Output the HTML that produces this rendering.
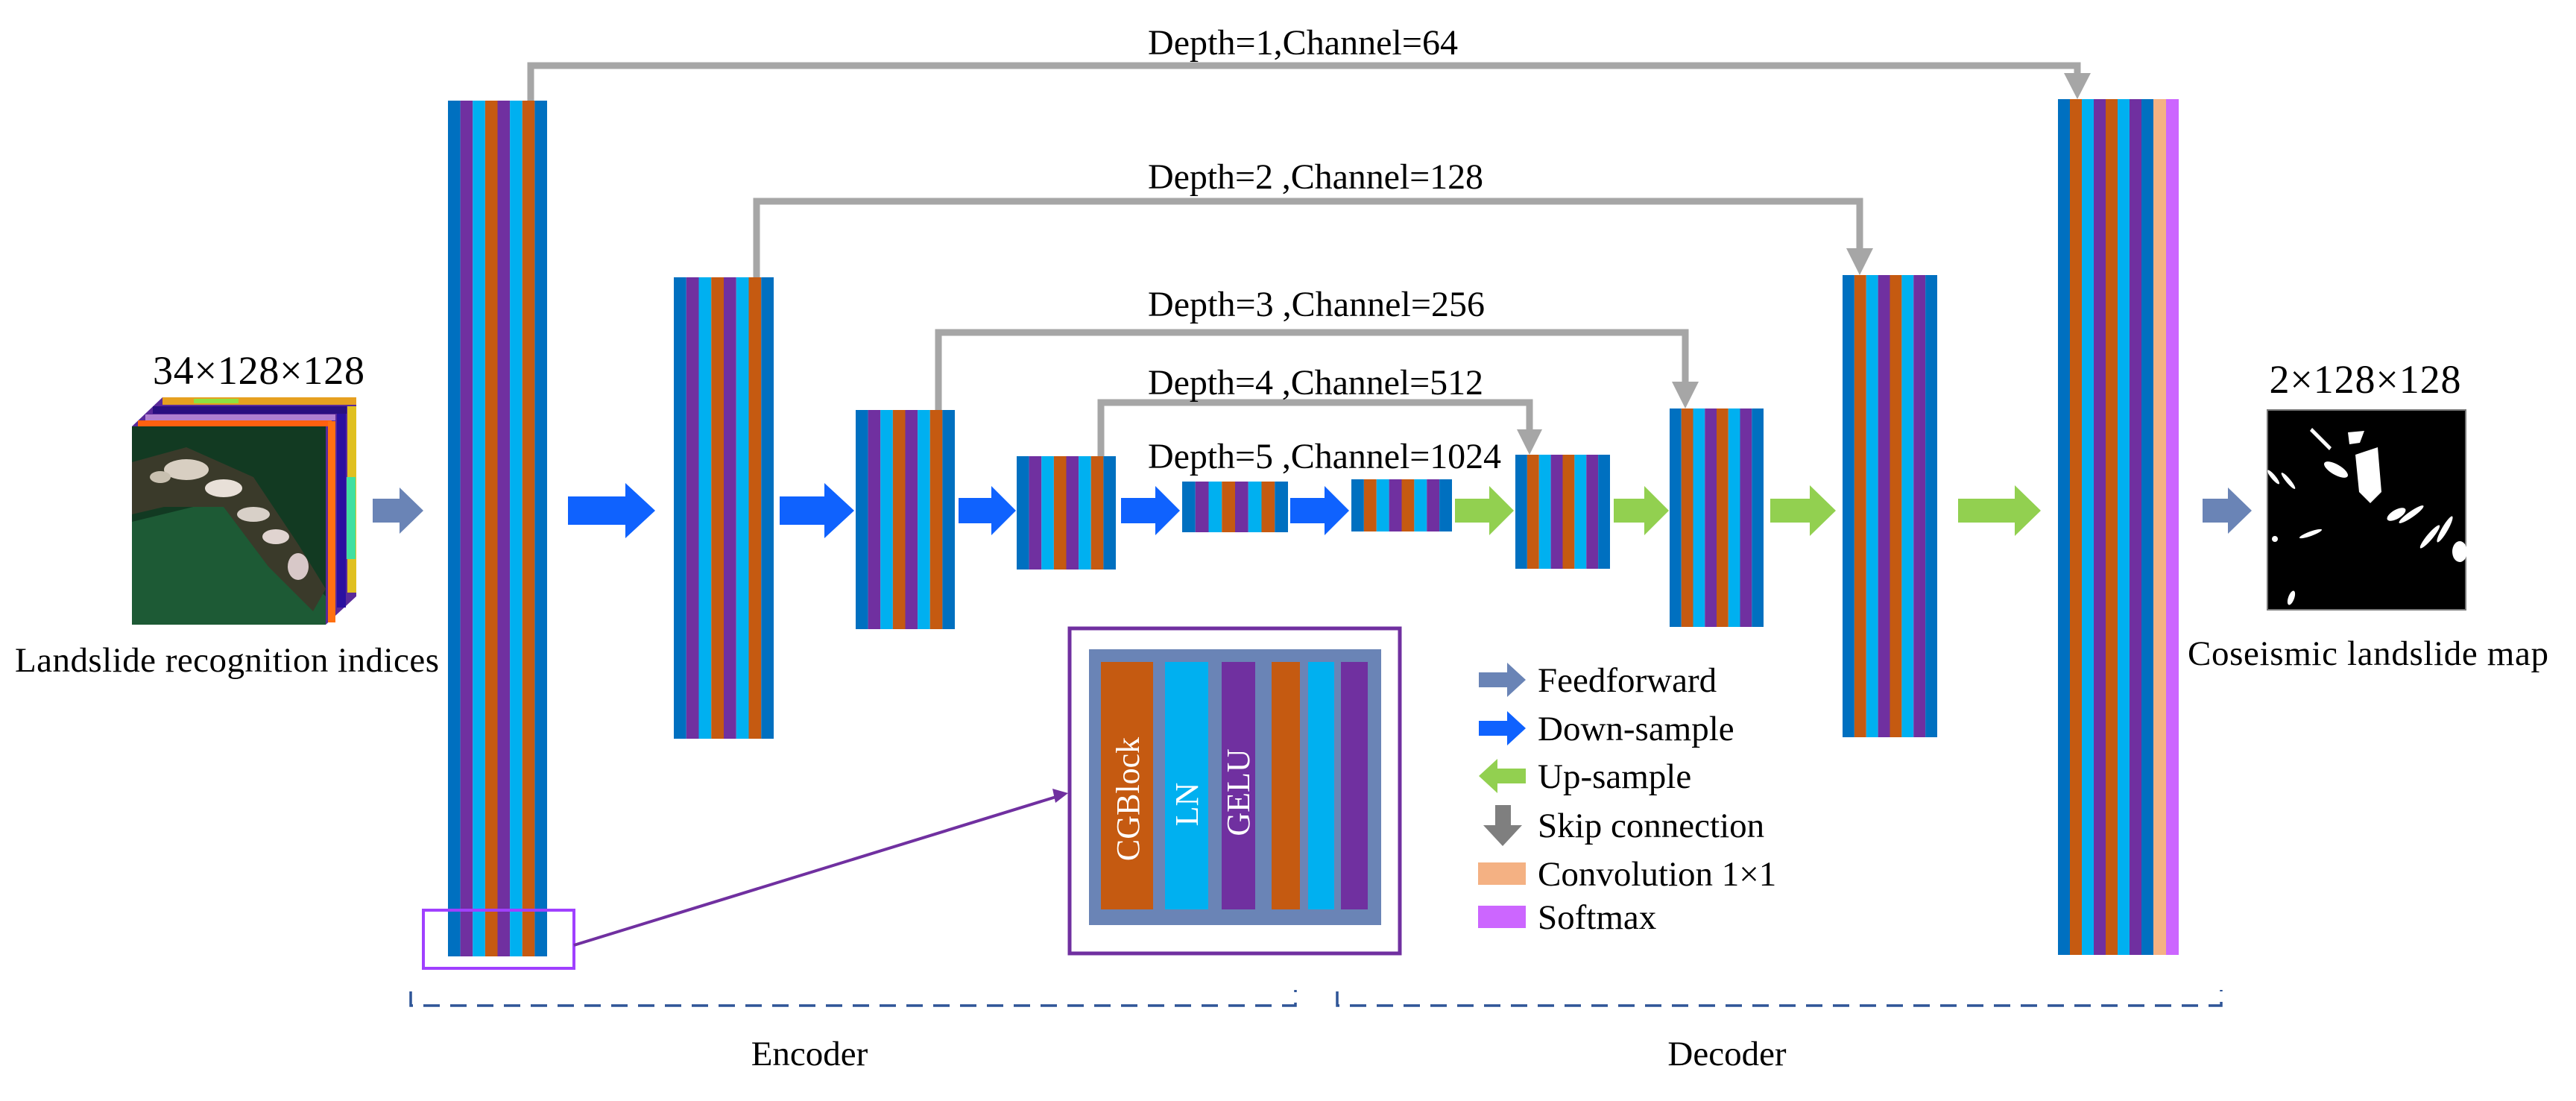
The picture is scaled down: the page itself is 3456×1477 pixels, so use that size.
<!DOCTYPE html>
<html><head><meta charset="utf-8"><style>
html,body{margin:0;padding:0;background:#fff;}
svg{display:block;}
text{font-family:"Liberation Serif",serif;fill:#000;}
</style></head><body>
<svg width="3456" height="1477" viewBox="0 0 3456 1477" xmlns="http://www.w3.org/2000/svg">
<defs>
<g id="enc">
<rect x="0" y="0" width="1" height="1" fill="#0070C0"/>
<rect x="1" y="0" width="1" height="1" fill="#7030A0"/>
<rect x="2" y="0" width="1" height="1" fill="#00B0F0"/>
<rect x="3" y="0" width="1" height="1" fill="#C55A11"/>
<rect x="4" y="0" width="1" height="1" fill="#7030A0"/>
<rect x="5" y="0" width="1" height="1" fill="#00B0F0"/>
<rect x="6" y="0" width="1" height="1" fill="#C55A11"/>
<rect x="7" y="0" width="1" height="1" fill="#0070C0"/>
</g>
<g id="dec">
<rect x="0" y="0" width="1" height="1" fill="#0070C0"/>
<rect x="1" y="0" width="1" height="1" fill="#C55A11"/>
<rect x="2" y="0" width="1" height="1" fill="#00B0F0"/>
<rect x="3" y="0" width="1" height="1" fill="#7030A0"/>
<rect x="4" y="0" width="1" height="1" fill="#C55A11"/>
<rect x="5" y="0" width="1" height="1" fill="#00B0F0"/>
<rect x="6" y="0" width="1" height="1" fill="#7030A0"/>
<rect x="7" y="0" width="1" height="1" fill="#0070C0"/>
</g>
</defs>

<!-- input image stack -->
<g>
<polygon points="218,533 478,533 478,800 437,838 177,838 177,572" fill="#5a2a9a"/>
<rect x="218" y="533" width="260" height="10" fill="#e6a020"/>
<rect x="260" y="535" width="60" height="6" fill="#8fe040"/>
<rect x="205" y="545" width="260" height="10" fill="#2a1080"/>
<rect x="195" y="556" width="255" height="8" fill="#b080d0"/>
<rect x="185" y="564" width="260" height="8" fill="#ff6010"/>
<rect x="466" y="545" width="12" height="250" fill="#e0c020"/>
<rect x="452" y="555" width="12" height="260" fill="#2a10a0"/>
<rect x="465" y="640" width="12" height="110" fill="#40e0a0"/>
<rect x="440" y="565" width="10" height="270" fill="#ff7010"/>
<rect x="177" y="572" width="260" height="266" fill="#123a22"/>
<polygon points="177,700 300,670 437,800 437,838 177,838" fill="#1d5a35"/>
<polygon points="177,620 250,600 340,640 400,730 437,790 420,820 360,760 300,680 220,680 177,690" fill="#3a3a2a"/>
<ellipse cx="250" cy="630" rx="30" ry="14" fill="#d8cfc2"/>
<ellipse cx="300" cy="655" rx="25" ry="12" fill="#e8e0d8"/>
<ellipse cx="340" cy="690" rx="22" ry="10" fill="#d8d0c8"/>
<ellipse cx="370" cy="720" rx="18" ry="10" fill="#e0d4d0"/>
<ellipse cx="400" cy="760" rx="14" ry="18" fill="#d8c8c8"/>
<ellipse cx="215" cy="640" rx="14" ry="8" fill="#c8c0b0"/>
</g>
<text x="347" y="515" font-size="54" text-anchor="middle" textLength="284">34×128×128</text>
<text x="20" y="901" font-size="47" textLength="569">Landslide recognition indices</text>

<!-- skip connections -->
<g fill="none" stroke="#A6A6A6" stroke-width="9">
<path d="M712,135 V88 H2787 V100"/>
<path d="M1015,372 V270 H2495 V335"/>
<path d="M1259,550 V446 H2261 V514"/>
<path d="M1477,612 V540 H2052 V578"/>
</g>
<g fill="#A6A6A6">
<polygon points="2769,98 2805,98 2787,133"/>
<polygon points="2477,333 2513,333 2495,369"/>
<polygon points="2243,512 2279,512 2261,548"/>
<polygon points="2035,576 2069,576 2052,610"/>
</g>
<text x="1540" y="73" font-size="48" textLength="416">Depth=1,Channel=64</text>
<text x="1540" y="253" font-size="48" textLength="450">Depth=2 ,Channel=128</text>
<text x="1540" y="424" font-size="48" textLength="452">Depth=3 ,Channel=256</text>
<text x="1540" y="529" font-size="48" textLength="450">Depth=4 ,Channel=512</text>
<text x="1540" y="628" font-size="48" textLength="474">Depth=5 ,Channel=1024</text>

<!-- blocks -->
<use href="#enc" transform="translate(601,135) scale(16.625,1148)"/>
<use href="#enc" transform="translate(904,372) scale(16.75,619)"/>
<use href="#enc" transform="translate(1148,550) scale(16.625,294)"/>
<use href="#enc" transform="translate(1364,612) scale(16.625,152)"/>
<use href="#enc" transform="translate(1586,646) scale(17.75,68)"/>
<use href="#dec" transform="translate(1813,643) scale(16.875,70)"/>
<use href="#dec" transform="translate(2033,610) scale(15.875,153)"/>
<use href="#dec" transform="translate(2240,548) scale(15.75,293)"/>
<use href="#dec" transform="translate(2472,369) scale(15.875,620)"/>
<use href="#dec" transform="translate(2761,133) scale(16,1148)"/>
<rect x="2889" y="133" width="17" height="1148" fill="#F4B183"/>
<rect x="2906" y="133" width="17" height="1148" fill="#CC66FF"/>

<!-- arrows -->
<g fill="#6A84B6">
<polygon points="500,669 536,669 536,654 568,685 536,716 536,701 500,701"/>
<polygon points="2955,669 2989,669 2989,654 3021,685 2989,716 2989,701 2955,701"/>
</g>
<g fill="#0F62FE">
<polygon points="762,666 839,666 839,648 879,685 839,722 839,704 762,704"/>
<polygon points="1046,666 1106,666 1106,648 1146,685 1106,722 1106,704 1046,704"/>
<polygon points="1286,668 1330,668 1330,652 1363,685 1330,718 1330,702 1286,702"/>
<polygon points="1504,668 1550,668 1550,652 1583,685 1550,718 1550,702 1504,702"/>
<polygon points="1731,668 1777,668 1777,652 1810,685 1777,718 1777,702 1731,702"/>
</g>
<g fill="#92D050">
<polygon points="1952,669 1998,669 1998,652 2031,685 1998,718 1998,701 1952,701"/>
<polygon points="2165,669 2206,669 2206,652 2239,685 2206,718 2206,701 2165,701"/>
<polygon points="2375,669 2428,669 2428,651 2463,685 2428,719 2428,701 2375,701"/>
<polygon points="2627,669 2703,669 2703,651 2738,685 2703,719 2703,701 2627,701"/>
</g>

<!-- output map -->
<rect x="3042" y="550" width="266" height="268" fill="#000" stroke="#777" stroke-width="2"/>
<g fill="#fff">
<polygon points="3102,574 3128,600 3125,604 3099,578"/>
<polygon points="3150,580 3172,578 3166,594 3152,596"/>
<ellipse cx="3134" cy="630" rx="18" ry="7" transform="rotate(30 3134 630)"/>
<polygon points="3160,610 3190,600 3195,660 3180,675 3165,660"/>
<ellipse cx="3215" cy="690" rx="14" ry="6" transform="rotate(-30 3215 690)"/>
<ellipse cx="3235" cy="690" rx="20" ry="4" transform="rotate(-35 3235 690)"/>
<ellipse cx="3260" cy="720" rx="20" ry="4" transform="rotate(-50 3260 720)"/>
<ellipse cx="3300" cy="740" rx="10" ry="14"/>
<ellipse cx="3050" cy="640" rx="12" ry="3" transform="rotate(50 3050 640)"/>
<ellipse cx="3070" cy="645" rx="14" ry="3" transform="rotate(50 3070 645)"/>
<ellipse cx="3100" cy="716" rx="16" ry="3" transform="rotate(-20 3100 716)"/>
<circle cx="3052" cy="723" r="4"/>
<ellipse cx="3074" cy="802" rx="4" ry="10" transform="rotate(20 3074 802)"/>
<ellipse cx="3280" cy="710" rx="4" ry="20" transform="rotate(30 3280 710)"/>
</g>
<text x="3173" y="527" font-size="54" text-anchor="middle" textLength="257">2×128×128</text>
<text x="3177" y="892" font-size="47" text-anchor="middle" textLength="484">Coseismic landslide map</text>

<!-- zoom box -->
<rect x="568" y="1221" width="202" height="78" fill="none" stroke="#A040FF" stroke-width="4"/>
<line x1="770" y1="1268" x2="1420" y2="1068" stroke="#7030A0" stroke-width="4"/>
<polygon points="1433,1064 1412,1058 1416,1077" fill="#7030A0"/>
<rect x="1435" y="843" width="443" height="436" fill="#fff" stroke="#7030A0" stroke-width="5"/>
<rect x="1461" y="871" width="392" height="370" fill="#6A84B6"/>
<rect x="1477" y="888" width="70" height="332" fill="#C55A11"/>
<rect x="1563" y="888" width="58" height="332" fill="#00B0F0"/>
<rect x="1639" y="888" width="45" height="332" fill="#7030A0"/>
<rect x="1706" y="888" width="38" height="332" fill="#C55A11"/>
<rect x="1755" y="888" width="35" height="332" fill="#00B0F0"/>
<rect x="1799" y="888" width="36" height="332" fill="#7030A0"/>
<g font-size="44" style="fill:#fff">
<text transform="translate(1528,1072) rotate(-90)" text-anchor="middle" style="fill:#fff">CGBlock</text>
<text transform="translate(1607,1079) rotate(-90)" text-anchor="middle" style="fill:#fff">LN</text>
<text transform="translate(1676,1063) rotate(-90)" text-anchor="middle" style="fill:#fff">GELU</text>
</g>

<!-- legend -->
<polygon points="1984,902 2022,902 2022,889 2047,912 2022,935 2022,922 1984,922" fill="#6A84B6"/>
<polygon points="1984,967 2022,967 2022,954 2047,977 2022,1000 2022,987 1984,987" fill="#0F62FE"/>
<polygon points="2047,1031 2009,1031 2009,1018 1984,1041 2009,1064 2009,1051 2047,1051" fill="#92D050"/>
<polygon points="2006,1080 2027,1080 2027,1107 2042,1107 2016,1135 1990,1107 2006,1107" fill="#7F7F7F"/>
<rect x="1983" y="1157" width="64" height="30" fill="#F4B183"/>
<rect x="1983" y="1215" width="64" height="30" fill="#CC66FF"/>
<g font-size="47">
<text x="2063" y="928">Feedforward</text>
<text x="2063" y="993">Down-sample</text>
<text x="2063" y="1057">Up-sample</text>
<text x="2063" y="1123">Skip connection</text>
<text x="2063" y="1188">Convolution 1×1</text>
<text x="2063" y="1246">Softmax</text>
</g>

<!-- brackets -->
<g fill="none" stroke="#2F5597" stroke-width="3.5">
<path d="M551,1330 V1349 H1738 V1328" stroke-dasharray="22,14"/>
<path d="M1794,1330 V1349 H2980 V1328" stroke-dasharray="22,14"/>
</g>
<text x="1086" y="1429" font-size="47" text-anchor="middle">Encoder</text>
<text x="2317" y="1429" font-size="47" text-anchor="middle">Decoder</text>
</svg>
</body></html>
